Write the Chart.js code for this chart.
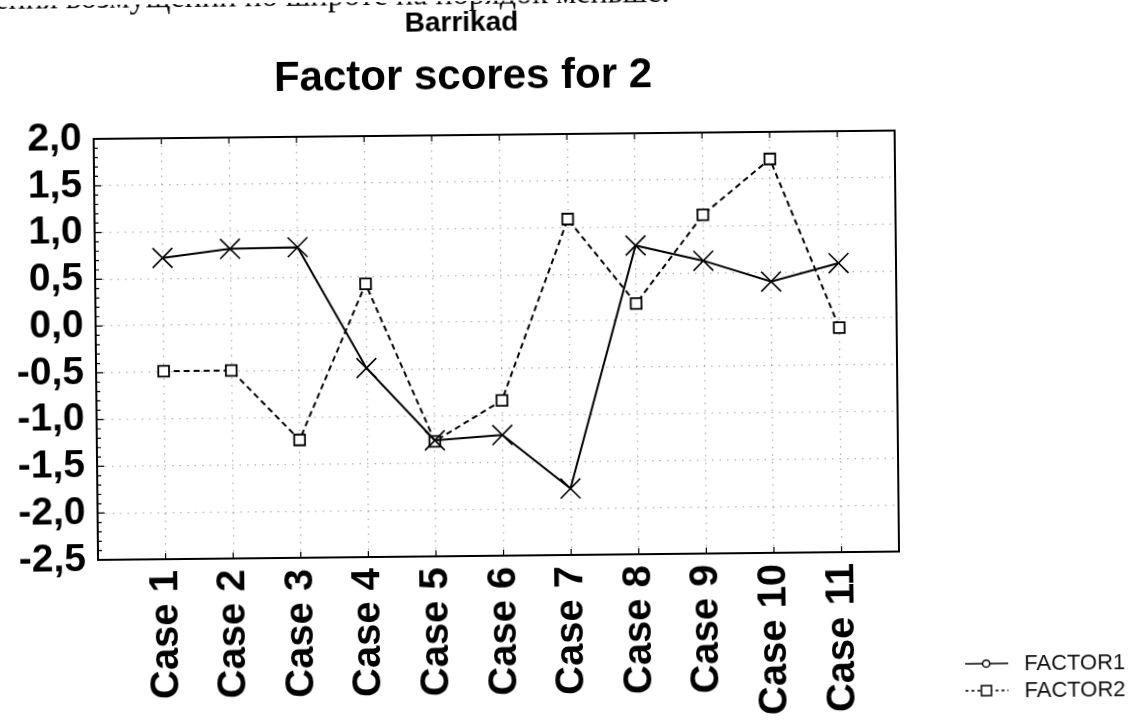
<!DOCTYPE html>
<html>
<head>
<meta charset="utf-8">
<script src="https://cdn.jsdelivr.net/npm/chart.js@4.4.1/dist/chart.umd.min.js"></script>
<style>
  html, body { margin: 0; padding: 0; background: #fff; overflow: hidden; }
  #wrap {
    position: relative;
    width: 1132px;
    height: 722px;
    transform: rotate(-0.6deg);
    transform-origin: 566px 361px;
  }
  canvas { display: block; }
</style>
</head>
<body>
<div id="wrap"><canvas id="chart" width="1132" height="722"></canvas></div>
<script>
// ---- data ----
const cases = ['Case 1', 'Case 2', 'Case 3', 'Case 4', 'Case 5', 'Case 6',
               'Case 7', 'Case 8', 'Case 9', 'Case 10', 'Case 11'];
const factor1 = [0.72, 0.81, 0.82, -0.48, -1.26, -1.21, -1.79, 0.80, 0.63, 0.40, 0.59];
const factor2 = [-0.49, -0.49, -1.24, 0.42, -1.27, -0.84, 1.09, 0.18, 1.12, 1.71, -0.10];
const seriesNames = ['FACTOR1', 'FACTOR2'];
const yMin = -2.5, yMax = 2.0, yStep = 0.5;

const pageLine = 'ения возмущений по широте на порядок меньше.';
const heading = 'Barrikad';
const chartTitle = 'Factor scores for 2';

const SANS = "'Liberation Sans', Arial, sans-serif";
const SERIF = "'Liberation Serif', 'Times New Roman', serif";

const toPoints = vals => vals.map((v, i) => ({ x: i + 1, y: v }));
const fmtComma = v => v.toFixed(1).replace('.', ',');

// frame, inner tick marks, headings and the legend box
const decor = {
  id: 'decor',
  beforeDatasetsDraw(chart) {
    const { ctx, chartArea: a, scales: { x, y } } = chart;
    ctx.save();
    ctx.strokeStyle = '#000';
    ctx.lineWidth = 2;
    ctx.strokeRect(a.left, a.top, a.right - a.left, a.bottom - a.top);

    ctx.lineWidth = 1.2;
    ctx.beginPath();
    x.ticks.forEach(t => {
      const px = x.getPixelForValue(t.value);
      ctx.moveTo(px, a.bottom); ctx.lineTo(px, a.bottom - 6);
      ctx.moveTo(px, a.top); ctx.lineTo(px, a.top + 6);
    });
    for (let k = 0; k <= Math.round((yMax - yMin) / 0.1); k++) {
      const v = yMin + k * 0.1;
      const py = y.getPixelForValue(v);
      const len = (k % 5 === 0) ? 7 : 4;
      ctx.moveTo(a.left, py); ctx.lineTo(a.left + len, py);
    }
    ctx.stroke();
    ctx.restore();
  },
  afterDraw(chart) {
    const { ctx } = chart;
    ctx.save();
    ctx.fillStyle = '#000';

    // running text line from the page above the figure
    ctx.textAlign = 'left';
    ctx.textBaseline = 'alphabetic';
    ctx.font = `32px ${SERIF}`;
    const w = ctx.measureText(pageLine).width;
    const size = 32 * 676 / w;
    ctx.font = `${size.toFixed(1)}px ${SERIF}`;
    ctx.fillText(pageLine, -2, 3);

    // headings
    ctx.textAlign = 'center';
    ctx.textBaseline = 'middle';
    ctx.font = `bold 28px ${SANS}`;
    ctx.fillText(heading, 465, 22);
    ctx.font = `bold 42px ${SANS}`;
    ctx.fillText(chartTitle, 466, 76);

    // legend
    const rows = [
      { y: 668, dash: [], marker: 'circle' },
      { y: 695, dash: [3, 3], marker: 'square' }
    ];
    chart.data.datasets.forEach((ds, i) => {
      const r = rows[i];
      ctx.strokeStyle = '#000';
      ctx.lineWidth = 1.3;
      ctx.setLineDash(r.dash);
      ctx.beginPath();
      ctx.moveTo(962, r.y); ctx.lineTo(1005, r.y);
      ctx.stroke();
      ctx.setLineDash([]);
      ctx.fillStyle = '#fff';
      ctx.lineWidth = 1.5;
      ctx.beginPath();
      if (r.marker === 'circle') {
        ctx.arc(983, r.y, 3.6, 0, Math.PI * 2);
      } else {
        ctx.rect(978, r.y - 5, 10, 10);
      }
      ctx.fill();
      ctx.stroke();
      ctx.fillStyle = '#111';
      ctx.textAlign = 'left';
      ctx.textBaseline = 'middle';
      ctx.font = `22px ${SANS}`;
      ctx.fillText(ds.label, 1021, r.y + 1);
    });
    ctx.restore();
  }
};

new Chart(document.getElementById('chart'), {
  type: 'line',
  data: {
    datasets: [
      {
        label: seriesNames[0],
        data: toPoints(factor1),
        borderColor: '#000',
        borderWidth: 2,
        pointStyle: 'crossRot',
        pointRadius: 14,
        pointBorderWidth: 1.6,
        pointBorderColor: '#000',
        pointBackgroundColor: '#000',
        tension: 0,
        fill: false
      },
      {
        label: seriesNames[1],
        data: toPoints(factor2),
        borderColor: '#000',
        borderWidth: 2,
        borderDash: [6, 4],
        pointStyle: 'rect',
        pointRadius: 7.6,
        pointBorderWidth: 1.8,
        pointBorderColor: '#000',
        pointBackgroundColor: '#fff',
        tension: 0,
        fill: false
      }
    ]
  },
  options: {
    responsive: false,
    animation: false,
    layout: { padding: { top: 134, right: 235, left: 0, bottom: 0 } },
    plugins: {
      legend: { display: false },
      title: { display: false },
      tooltip: { enabled: false }
    },
    scales: {
      x: {
        type: 'linear',
        min: 0,
        max: 11.85,
        afterBuildTicks: s => { s.ticks = cases.map((_, i) => ({ value: i + 1 })); },
        afterFit: s => { s.height = 167; },
        grid: { color: 'rgba(0,0,0,0.3)', lineWidth: 1.3, drawTicks: false },
        border: { display: false, dash: [1.5, 6] },
        ticks: {
          autoSkip: false,
          maxRotation: 90,
          minRotation: 90,
          padding: 11,
          color: '#000',
          font: { family: SANS, size: 40, weight: 'bold' },
          callback: (v, i) => cases[i]
        }
      },
      y: {
        min: yMin,
        max: yMax,
        afterFit: s => { s.width = 96; },
        grid: { color: 'rgba(0,0,0,0.3)', lineWidth: 1.3, drawTicks: false },
        border: { display: false, dash: [1.5, 6] },
        ticks: {
          autoSkip: false,
          stepSize: yStep,
          padding: 12,
          color: '#000',
          font: { family: SANS, size: 39, weight: 'bold' },
          callback: v => fmtComma(v)
        }
      }
    }
  },
  plugins: [decor]
});
</script>
</body>
</html>
